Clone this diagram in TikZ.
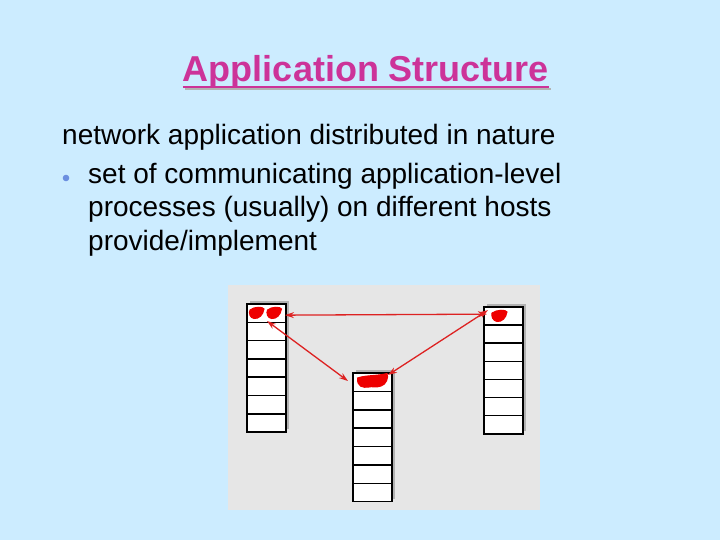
\documentclass[tikz,border=0pt]{standalone}
\usepackage{fontspec}
\setmainfont{Liberation Sans}
\usetikzlibrary{arrows.meta}
\definecolor{bgblue}{HTML}{CCECFF}
\definecolor{panelgray}{HTML}{E6E6E6}
\definecolor{titlemag}{HTML}{CC3399}
\definecolor{bulletblue}{HTML}{6B8FE0}
\definecolor{procred}{HTML}{EE0000}
\definecolor{linkred}{HTML}{DD2222}
\tikzset{
  cellbox/.style={draw=black, line width=1.5pt, fill=white, minimum width=39pt, minimum height=18.3pt, inner sep=0pt, outer sep=0pt, anchor=north west},
  shadowbox/.style={fill=black!30, draw=none},
  blob/.style={fill=procred, draw=procred, line width=1pt},
  link/.style={draw=linkred, line width=1.3pt, {Stealth[length=9pt,width=6pt]}-{Stealth[length=9pt,width=6pt]}},
  bodytext/.style={anchor=base west, font=\fontsize{28}{32}\selectfont, inner sep=0pt, text=black},
}
\begin{document}
\begin{tikzpicture}[x=1pt,y=-1pt]
\useasboundingbox (0,0) rectangle (720,540);
\fill[bgblue] (0,0) rectangle (720,540);
% title
\node (title) [anchor=base, font=\fontsize{36}{40}\selectfont\bfseries, text=titlemag, inner sep=0pt] at (366,82) {Application Structure};
\draw[black!30, line width=2.2pt] ([xshift=2pt,yshift=-7pt]title.base west) -- ([xshift=2pt,yshift=-7pt]title.base east);
\draw[titlemag, line width=2.2pt] ([yshift=-5pt]title.base west) -- ([yshift=-5pt]title.base east);
% body text
\node (l1) [bodytext] at (62,145) {network application distributed in nature};
\fill[bulletblue] (66,178) circle (3.3pt);
\node (l2) [bodytext] at (88,184) {set of communicating application-level};
\node (l3) [bodytext] at (88,217) {processes (usually) on different hosts};
\node (l4) [bodytext] at (88,251) {provide/implement};
% panel
\fill[panelgray] (228,285) rectangle (540,510);
% stacks: shadows
\fill[shadowbox] (250,301) rectangle (289,429);
\fill[shadowbox] (356,370) rectangle (395,499);
\fill[shadowbox] (487,304) rectangle (526,431);
% left stack
\foreach \i in {0,...,6} {
  \node (L\i) [cellbox] at (247,{304+18.3*\i}) {};
}
% middle stack
\foreach \i in {0,...,6} {
  \node (M\i) [cellbox] at (353,{373+18.4*\i}) {};
}
% right stack
\foreach \i in {0,...,6} {
  \node (R\i) [cellbox] at (484,{307+18.1*\i}) {};
}
% process blobs
\fill[blob] (250,310) .. controls (254,306.5) and (263,306.5) .. (264,309) .. controls (263,315) and (259,319) .. (254,318.5) .. controls (250,318) and (248.5,313) .. (250,310) -- cycle;
\fill[blob] (267.5,310) .. controls (271.5,306.5) and (280.5,306.5) .. (281.5,309) .. controls (280.5,315) and (276.5,319) .. (271.5,318.5) .. controls (267.5,318) and (266,313) .. (267.5,310) -- cycle;
\fill[blob] (357.5,378) .. controls (366,375) and (378,376) .. (387,373.5) .. controls (389,377) and (386,385) .. (381,386) .. controls (376,388) and (372,386) .. (369,387) .. controls (363,388) and (357,387) .. (357.5,378) -- cycle;
\fill[blob] (492,313) .. controls (497,309.5) and (506,309.5) .. (507,312) .. controls (506,318) and (502,322) .. (497,321.5) .. controls (493,321) and (491,316) .. (492,313) -- cycle;
% connectors
\coordinate (lr) at ([xshift=-1pt,yshift=-2pt]L0.east);
\coordinate (rl) at ([xshift=3pt,yshift=2pt]R0.west);
\coordinate (lm) at (267,321);
\coordinate (ml) at (348,381);
\coordinate (mr) at (388,375);
\coordinate (rm) at ([xshift=4pt,yshift=6pt]R0.west);
\draw[link] (lr) -- (rl);
\draw[link] (lm) -- (ml);
\draw[link] (mr) -- (rm);
\end{tikzpicture}
\end{document}
